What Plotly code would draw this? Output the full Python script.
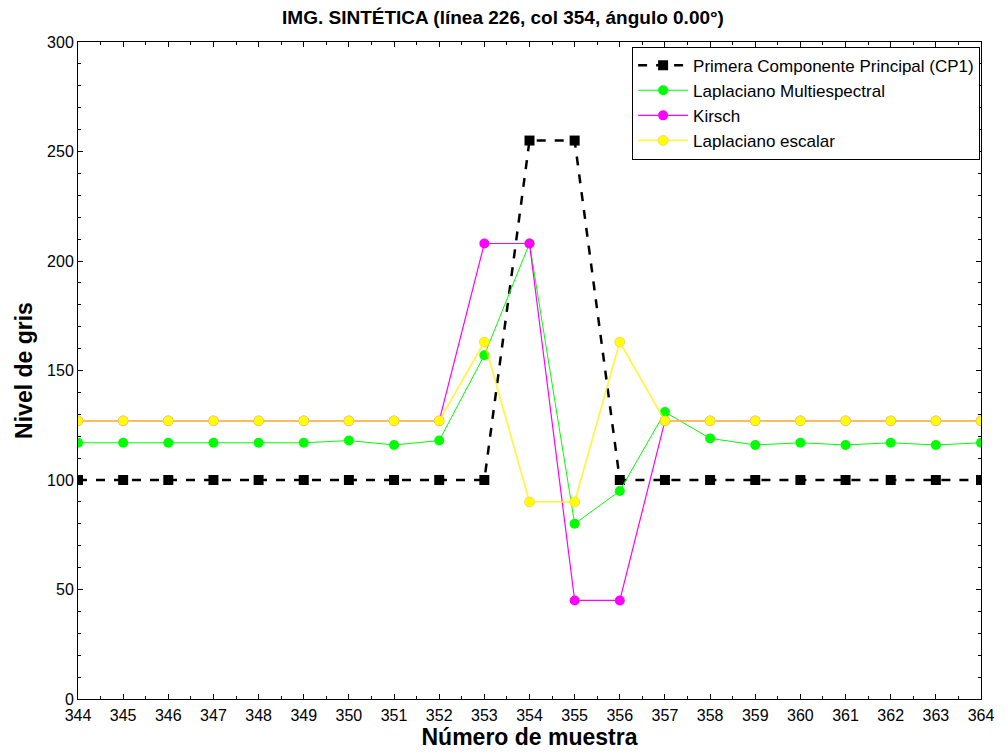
import plotly.graph_objects as go

# Sample positions along the profile line
muestra = list(range(344, 365))

# Grey level profiles
cp1 = [100, 100, 100, 100, 100, 100, 100, 100, 100, 100, 255,
       255, 100, 100, 100, 100, 100, 100, 100, 100, 100]
lap_multi = [117, 117, 117, 117, 117, 117, 118, 116, 118, 157, 208,
             80, 95, 131, 119, 116, 117, 116, 117, 116, 117]
kirsch = [127, 127, 127, 127, 127, 127, 127, 127, 127, 208, 208,
          45, 45, 127, 127, 127, 127, 127, 127, 127, 127]
lap_escalar = [127, 127, 127, 127, 127, 127, 127, 127, 127, 163, 90,
               90, 163, 127, 127, 127, 127, 127, 127, 127, 127]

FONT = "Liberation Sans, Arial, sans-serif"

fig = go.Figure()
fig.add_trace(go.Scatter(
    x=muestra, y=cp1, mode="lines+markers",
    name="Primera Componente Principal (CP1)",
    line=dict(color="black", width=2.5, dash="dash"),
    marker=dict(symbol="square", size=10, color="black")))
fig.add_trace(go.Scatter(
    x=muestra, y=lap_multi, mode="lines+markers",
    name="Laplaciano Multiespectral",
    line=dict(color="#00ff00", width=1),
    marker=dict(symbol="circle", size=10, color="#00ff00")))
fig.add_trace(go.Scatter(
    x=muestra, y=kirsch, mode="lines+markers",
    name="Kirsch",
    line=dict(color="#ff00ff", width=1.2),
    marker=dict(symbol="circle", size=10, color="#ff00ff")))
fig.add_trace(go.Scatter(
    x=muestra, y=lap_escalar, mode="lines+markers",
    name="Laplaciano escalar",
    line=dict(color="rgba(255,240,0,0.72)", width=1.8),
    marker=dict(symbol="circle", size=10, color="#ffff00",
                line=dict(color="rgba(250,190,110,0.8)", width=0.8))))

fig.update_layout(
    width=1006, height=756,
    margin=dict(l=78, r=16, t=42, b=56),
    paper_bgcolor="white", plot_bgcolor="white",
    font=dict(family=FONT, size=16, color="black"),
    title=dict(text="<b>IMG. SINTÉTICA (línea 226, col 354, ángulo 0.00°)</b>",
               x=0.5, xanchor="center", y=0.977, yanchor="middle",
               font=dict(size=19)),
    showlegend=True,
    legend=dict(x=0.999, y=0.993, xanchor="right", yanchor="top",
                bgcolor="white", bordercolor="black", borderwidth=1,
                font=dict(size=17), tracegroupgap=0, itemwidth=50),
)

fig.update_xaxes(
    range=[344, 364], dtick=1, tick0=344,
    showline=True, linecolor="black", linewidth=1, mirror="ticks",
    ticks="inside", ticklen=5, tickcolor="black",
    minor=dict(ticks="inside", dtick=0.5, ticklen=3, tickcolor="black"),
    showgrid=False, zeroline=False, ticklabelstandoff=2,
    title=dict(text="<b>Número de muestra</b>", font=dict(size=23), standoff=4),
)
fig.update_yaxes(
    range=[0, 300], dtick=50,
    showline=True, linecolor="black", linewidth=1, mirror="ticks",
    ticks="inside", ticklen=5, tickcolor="black",
    minor=dict(ticks="inside", dtick=10, ticklen=3, tickcolor="black"),
    showgrid=False, zeroline=False,
    title=dict(text="<b>Nivel de gris</b>", font=dict(size=23), standoff=8),
)

fig.write_html("out.html")
